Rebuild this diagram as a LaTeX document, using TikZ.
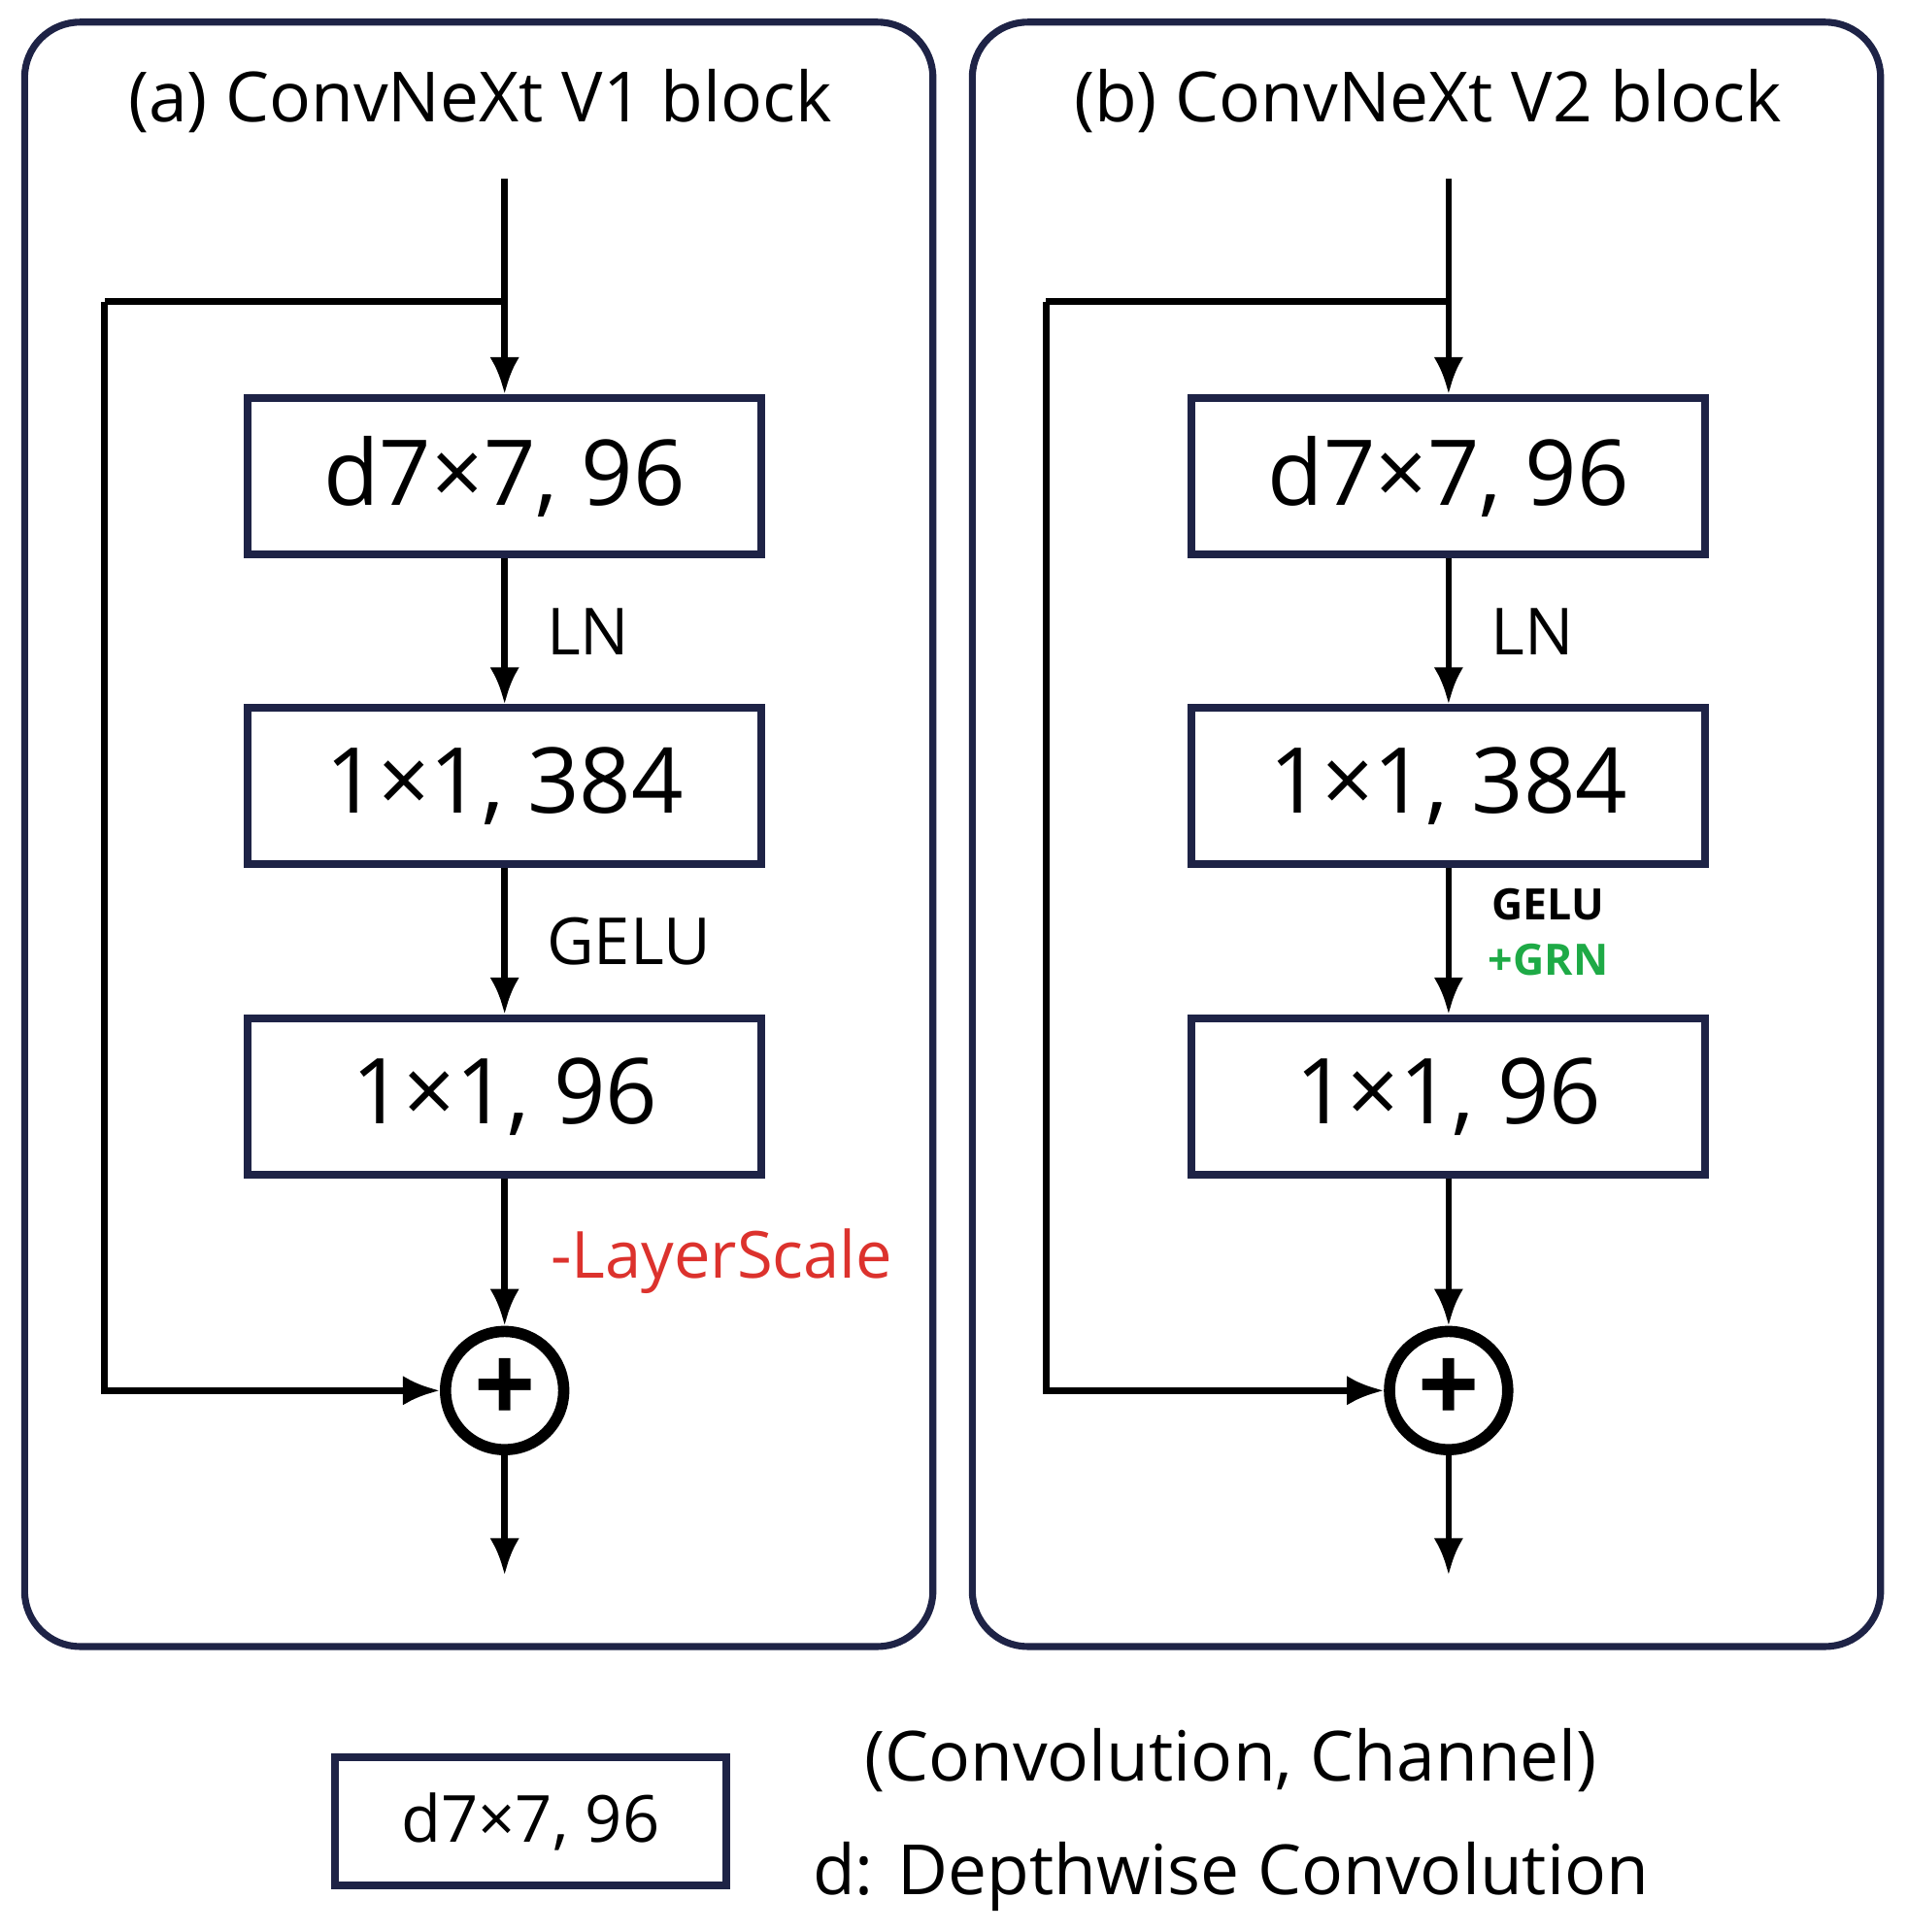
\documentclass[tikz,border=0pt]{standalone}
\usepackage{fontspec}
\setmainfont{Open Sans}
\usetikzlibrary{arrows.meta, positioning}
\definecolor{frame}{RGB}{30,35,70}
\definecolor{lsred}{RGB}{220,50,45}
\definecolor{grngreen}{RGB}{30,170,70}
\tikzstyle{panel} = [draw=frame, line width=1.6pt, rounded corners=0.45cm]
\tikzstyle{layer} = [rectangle, draw=frame, line width=1.8pt, minimum width=4.17cm, minimum height=1.27cm, font=\fontsize{21}{25}\selectfont, text centered]
\tikzstyle{addop} = [circle, draw=black, line width=2.6pt, minimum size=0.96cm, inner sep=0pt]
\tikzstyle{arrow} = [line width=1.5pt, -{Latex[length=0.3cm, width=0.24cm]}]
\tikzstyle{title} = [font=\fontsize{16}{20}\selectfont]
\tikzstyle{lbl} = [font=\fontsize{15}{18}\selectfont, anchor=west]

\begin{document}
\begin{tikzpicture}[x=0.01cm, y=-0.01cm]
\useasboundingbox (0,0) rectangle (1550,1570);

\draw [panel] (20,18) rectangle (758,1338);
\draw [panel] (790,18) rectangle (1528,1338);
\node [title] at (390,82) {(a) ConvNeXt V1 block};
\node [title] at (1160,82) {(b) ConvNeXt V2 block};

% V1 block
\coordinate (inA) at (410,145);
\coordinate (brA) at (410,245);
\coordinate (skA) at (85,245);
\node (dwA) [layer] at (410,387) {d7×7, 96};
\node (pw1A) [layer] at (410,639) {1×1, 384};
\node (pw2A) [layer] at (410,891) {1×1, 96};
\node (addA) [addop] at (410,1130) {\textbf{\Huge +}};
\coordinate (outA) at (410,1280);
\draw [arrow] (inA) -- (dwA);
\draw [line width=1.5pt] (brA) -- (skA);
\draw [arrow] (skA) |- (addA);
\draw [arrow] (dwA) -- node[lbl, xshift=0.2cm] {LN} (pw1A);
\draw [arrow] (pw1A) -- node[lbl, xshift=0.2cm] {GELU} (pw2A);
\draw [arrow] (pw2A) -- (addA);
\node [lbl, text=lsred] at (435,1025) {-LayerScale};
\draw [arrow] (addA) -- (outA);

% V2 block
\coordinate (inB) at (1177,145);
\coordinate (brB) at (1177,245);
\coordinate (skB) at (850,245);
\node (dwB) [layer] at (1177,387) {d7×7, 96};
\node (pw1B) [layer] at (1177,639) {1×1, 384};
\node (pw2B) [layer] at (1177,891) {1×1, 96};
\node (addB) [addop] at (1177,1130) {\textbf{\Huge +}};
\coordinate (outB) at (1177,1280);
\draw [arrow] (inB) -- (dwB);
\draw [line width=1.5pt] (brB) -- (skB);
\draw [arrow] (skB) |- (addB);
\draw [arrow] (dwB) -- node[lbl, xshift=0.2cm] {LN} (pw1B);
\draw [arrow] (pw1B) -- (pw2B);
\node [font=\fontsize{10}{12}\bfseries] at (1258,735) {GELU};
\node [font=\fontsize{10}{12}\bfseries, text=grngreen] at (1258,780) {+GRN};
\draw [arrow] (pw2B) -- (addB);
\draw [arrow] (addB) -- (outB);

% legend
\node (legend) [layer, minimum width=3.18cm, minimum height=1.04cm, font=\fontsize{15}{18}\selectfont] at (431,1480) {d7×7, 96};
\node [title] at (1000,1430) {(Convolution, Channel)};
\node [title] at (1000,1525) {d: Depthwise Convolution};
\end{tikzpicture}
\end{document}
